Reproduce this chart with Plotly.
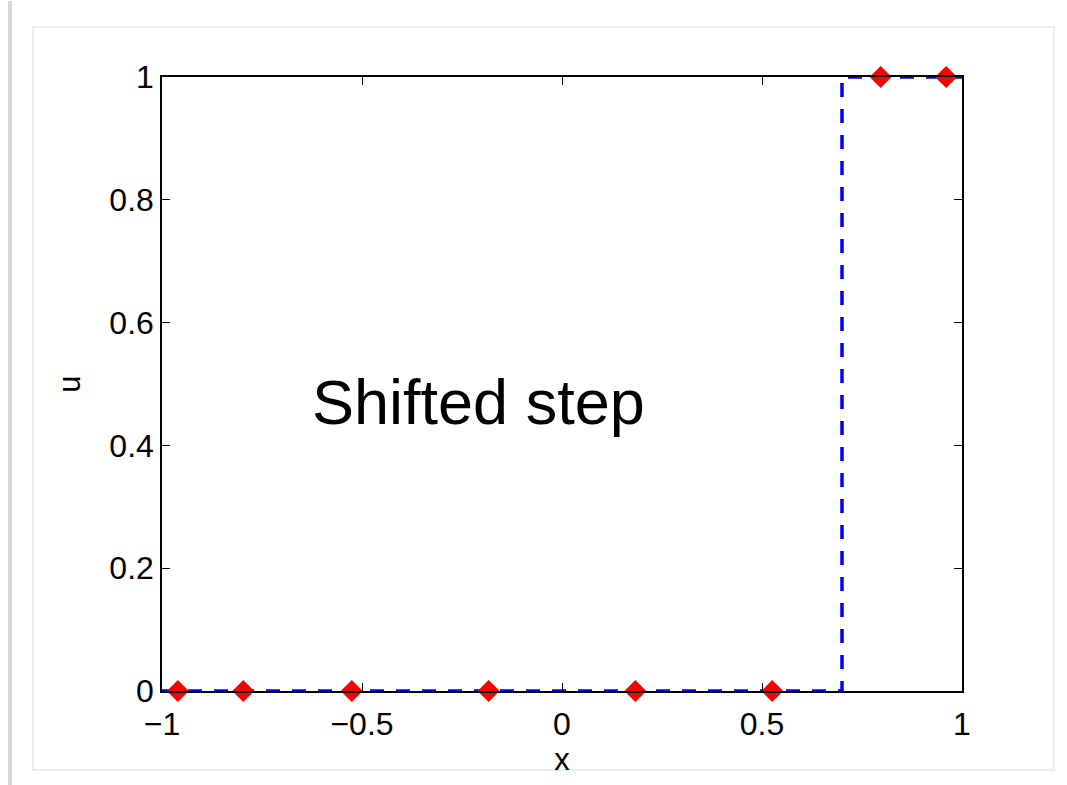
import plotly.graph_objects as go

# Data
node_x = [-0.9603, -0.7967, -0.5255, -0.1834, 0.1834, 0.5255, 0.7967, 0.9603]
node_u = [0, 0, 0, 0, 0, 0, 1, 1]
step_x = [-1, 0.7, 0.7, 1]
step_u = [0, 0, 1, 1]
x_ticks = [-1, -0.5, 0, 0.5, 1]
x_tick_labels = ["\u22121", "\u22120.5", "0", "0.5", "1"]
y_ticks = [0, 0.2, 0.4, 0.6, 0.8, 1]
y_tick_labels = ["0", "0.2", "0.4", "0.6", "0.8", "1"]

FONT = "Liberation Sans, Arial, Helvetica, sans-serif"

fig = go.Figure()
fig.add_trace(go.Scatter(
    x=step_x, y=step_u, mode="lines",
    line=dict(color="#0000ff", width=3.5, dash="14px,12px"),
    showlegend=False, hoverinfo="skip", cliponaxis=False,
))
fig.add_trace(go.Scatter(
    x=node_x, y=node_u, mode="markers",
    marker=dict(symbol="diamond", size=17, color="#ff0000", line=dict(width=0)),
    showlegend=False, cliponaxis=False,
))

axis_common = dict(
    showgrid=False, zeroline=False, showline=True, linecolor="black", linewidth=1.5,
    mirror="ticks", ticks="inside", ticklen=8, tickwidth=1, tickcolor="black",
    tickfont=dict(family=FONT, size=32, color="black"),
)
fig.update_xaxes(range=[-1, 1], tickvals=x_ticks, ticktext=x_tick_labels,
                 ticklabelstandoff=4,
                 title=dict(text="x", font=dict(family=FONT, size=31, color="black"), standoff=0),
                 **axis_common)
fig.update_yaxes(range=[0, 1], tickvals=y_ticks, ticktext=y_tick_labels,
                 title=dict(text="u", font=dict(family=FONT, size=31, color="black"), standoff=20),
                 **axis_common)

fig.add_annotation(x=-0.63, y=0.47, xref="x", yref="y", text="Shifted step",
                   showarrow=False, xanchor="left", yanchor="middle",
                   font=dict(family=FONT, size=63, color="black"))

# Frame decorations
fig.add_shape(type="rect", xref="paper", yref="paper", layer="below",
              x0=-129/800, x1=892/800, y0=-79/614, y1=664/614,
              line=dict(color="#ececec", width=2), fillcolor="white")
fig.add_shape(type="line", xref="paper", yref="paper", layer="below",
              x0=-152/800, x1=-152/800, y0=-100/614, y1=690/614,
              line=dict(color="#d8d8d8", width=4))

fig.update_layout(
    width=1067, height=785,
    margin=dict(l=162, r=105, t=77, b=94),
    paper_bgcolor="white", plot_bgcolor="rgba(0,0,0,0)",
    font=dict(family=FONT, color="black"),
)

fig.write_html("out.html")
